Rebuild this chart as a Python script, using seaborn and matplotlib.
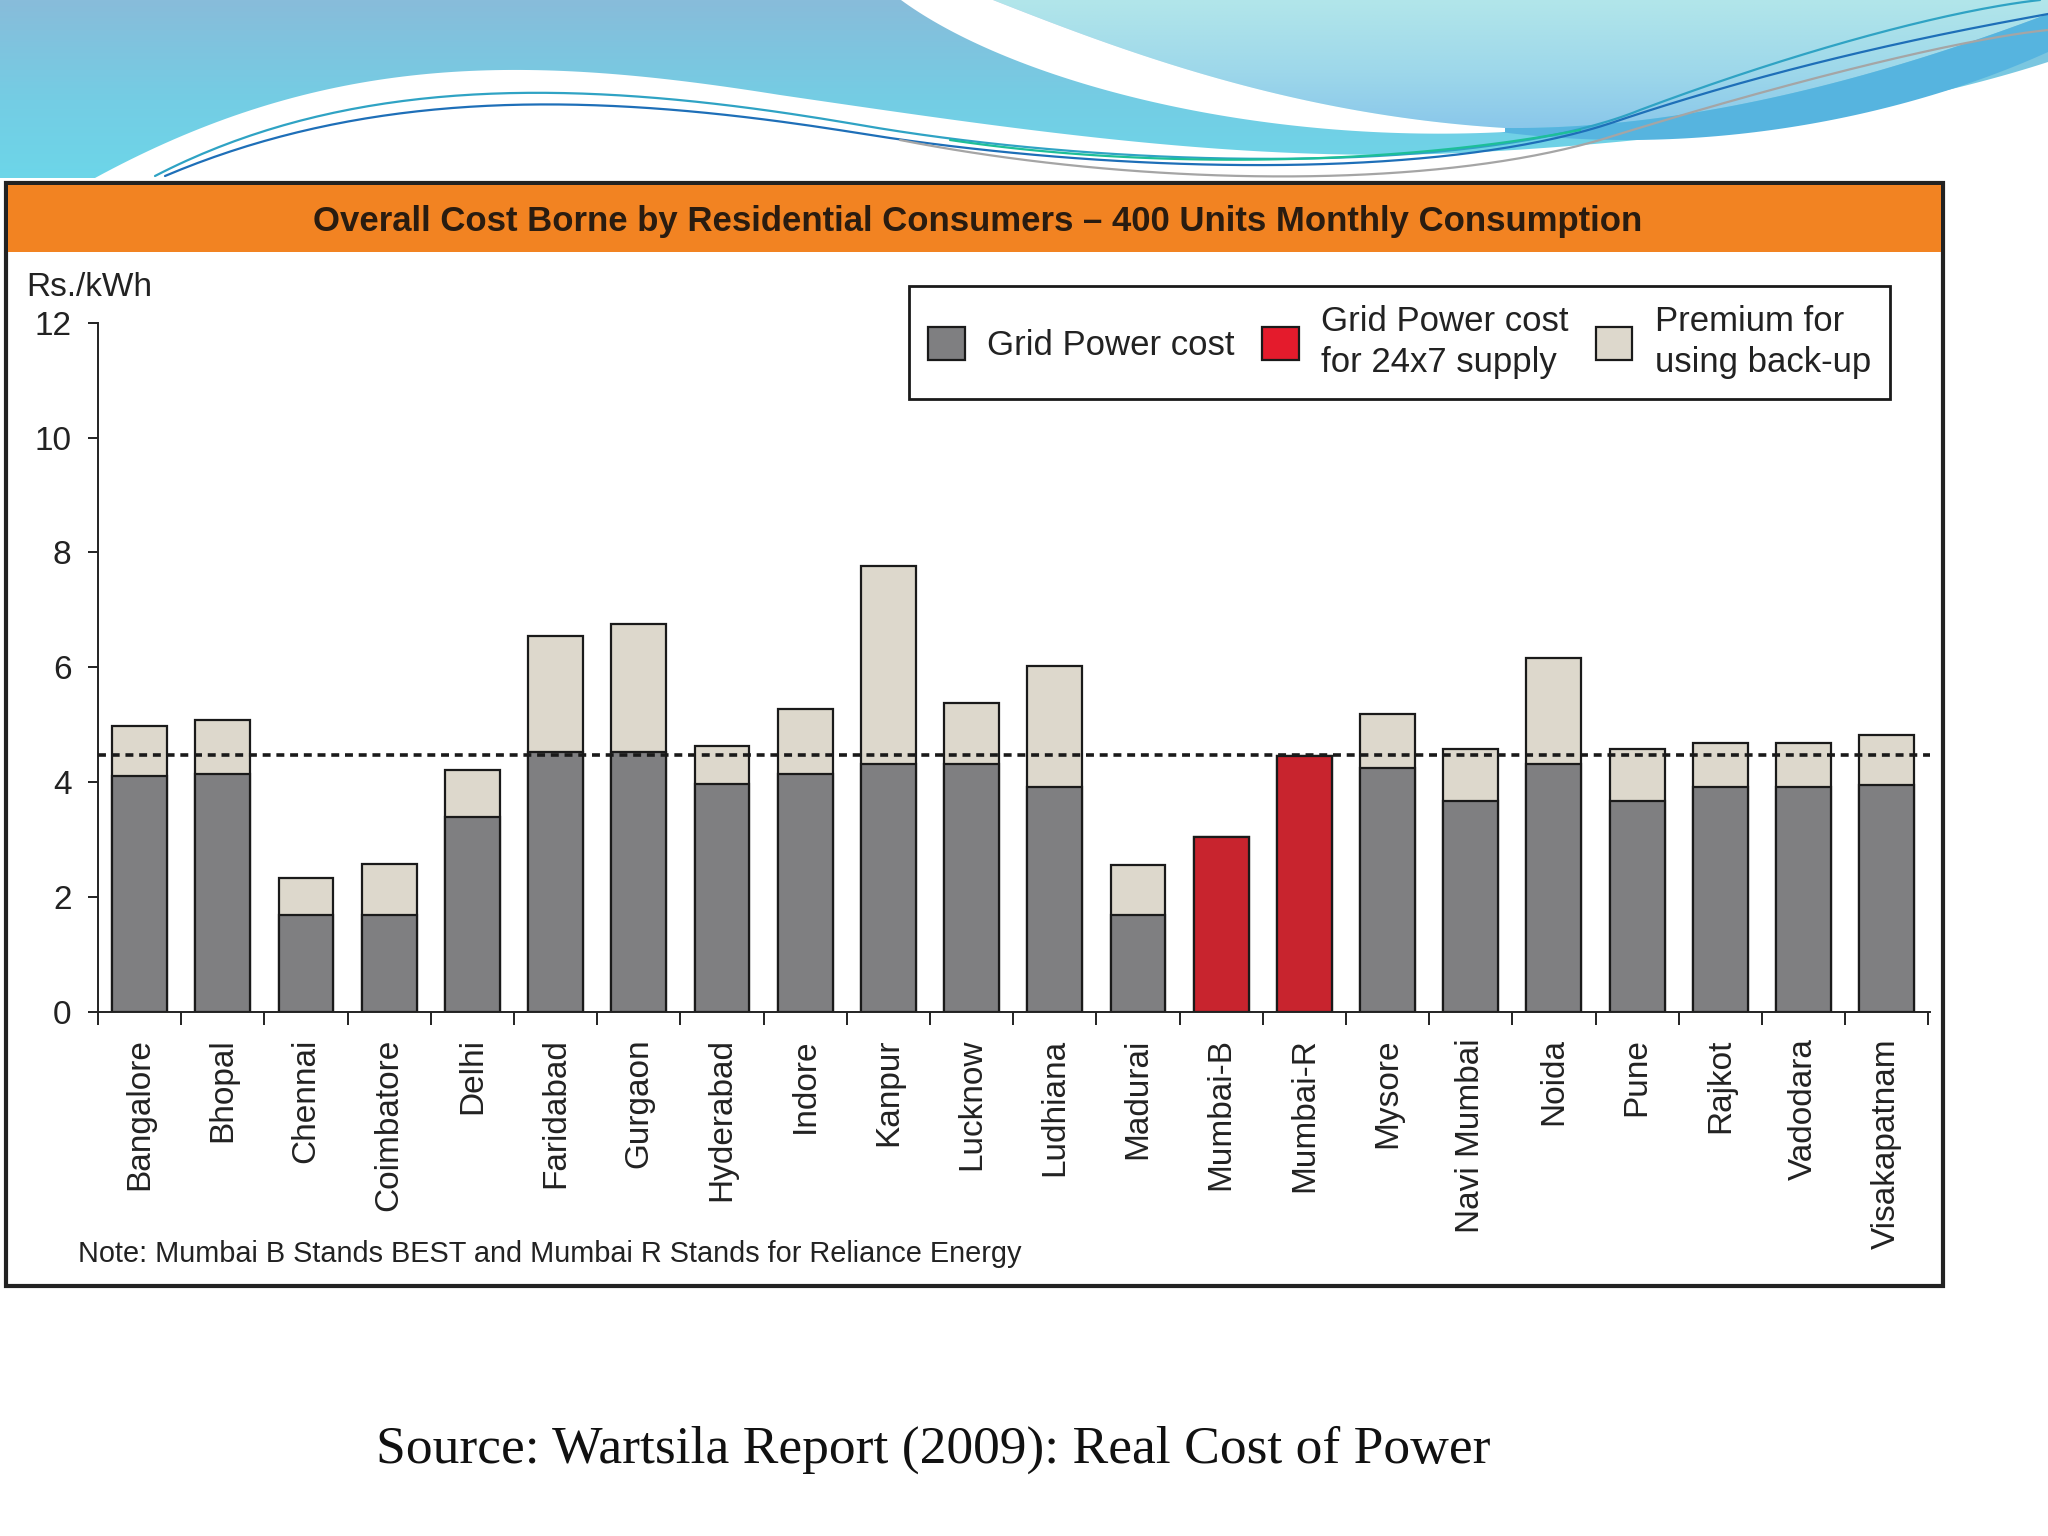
import numpy as np
import pandas as pd
import matplotlib
matplotlib.use("Agg")
import matplotlib.pyplot as plt
from matplotlib.patches import Rectangle, Polygon, Patch
from matplotlib.colors import LinearSegmentedColormap
import seaborn as sns

# data (Rs./kWh)
cities = ["Bangalore", "Bhopal", "Chennai", "Coimbatore", "Delhi", "Faridabad", "Gurgaon",
          "Hyderabad", "Indore", "Kanpur", "Lucknow", "Ludhiana", "Madurai", "Mumbai-B",
          "Mumbai-R", "Mysore", "Navi Mumbai", "Noida", "Pune", "Rajkot", "Vadodara",
          "Visakapatnam"]
grid_cost = [4.10, 4.14, 1.69, 1.69, 3.39, 4.52, 4.53, 3.96, 4.14, 4.32, 4.32,
             3.91, 1.69, 3.05, 4.45, 4.25, 3.68, 4.32, 3.68, 3.91, 3.91, 3.95]
backup_premium = [0.88, 0.94, 0.64, 0.88, 0.83, 2.03, 2.22, 0.67, 1.13, 3.44, 1.06,
                  2.12, 0.87, 0.00, 0.00, 0.94, 0.90, 1.84, 0.90, 0.78, 0.78, 0.87]
full_supply_cities = ["Mumbai-B", "Mumbai-R"]
reference_level = 4.47

legend_labels = ["Grid Power cost", "Grid Power cost\nfor 24x7 supply", "Premium for\nusing back-up"]
title = "Overall Cost Borne by Residential Consumers \u2013 400 Units Monthly Consumption"
note = "Note: Mumbai B Stands BEST and Mumbai R Stands for Reliance Energy"
source = "Source: Wartsila Report (2009): Real Cost of Power"

GRAY = "#7f7f81"
RED = "#c8242e"
BEIGE = "#ddd8cc"

df = pd.DataFrame({"city": cities, "grid": grid_cost, "premium": backup_premium})
df["total"] = df["grid"] + df["premium"]
palette = {c: (RED if c in full_supply_cities else GRAY) for c in cities}

sns.set_style("ticks")
plt.rcParams["font.family"] = ["Liberation Sans", "DejaVu Sans"]

fig = plt.figure(figsize=(20.48, 15.36), dpi=100)
fig.patch.set_facecolor("white")


def bez(p0, p1, p2, p3, n=80):
    t = np.linspace(0, 1, n)[:, None]
    p0, p1, p2, p3 = map(np.array, (p0, p1, p2, p3))
    return (1 - t) ** 3 * p0 + 3 * (1 - t) ** 2 * t * p1 + 3 * (1 - t) * t ** 2 * p2 + t ** 3 * p3


# slide background in pixel coordinates
bg = fig.add_axes([0, 0, 1, 1], zorder=-1)
bg.set_xlim(0, 2048)
bg.set_ylim(1536, 0)
bg.axis("off")

# big blue wave at the top
edge_a = np.vstack([[(0, 178)],
                    bez((95, 178), (330, 50), (530, 55), (780, 95)),
                    bez((780, 95), (1020, 130), (1250, 165), (1480, 152)),
                    bez((1480, 152), (1700, 140), (1900, 110), (2048, 62))])
wave_a = Polygon(np.vstack([[(0, 0)], edge_a, [(2048, 0)]]), closed=True,
                 facecolor="none", edgecolor="none", transform=bg.transData)
bg.add_patch(wave_a)
grad = np.linspace(0, 1, 200)[:, None] * np.ones((1, 50))
im = bg.imshow(grad, extent=[0, 2048, 200, 0], aspect="auto", zorder=1,
               cmap=LinearSegmentedColormap.from_list("w", ["#88bcda", "#74cde4", "#6ad8ea"]))
im.set_clip_path(wave_a)

light_left = bez((993, 0), (1120, 50), (1290, 115), (1505, 128))
light_bottom = bez((1505, 128), (1700, 130), (1900, 70), (2048, 14))
light = Polygon(np.vstack([light_left, light_bottom, [(2048, 0)]]), closed=True,
                facecolor="none", edgecolor="none", transform=bg.transData)
bg.add_patch(light)
im2 = bg.imshow(grad, extent=[900, 2048, 140, 0], aspect="auto", zorder=2,
                cmap=LinearSegmentedColormap.from_list("l", ["#b2e6ea", "#9ed8ea", "#86c4ea"]))
im2.set_clip_path(light)

band_low = bez((1500, 132), (1720, 160), (1920, 110), (2048, 52))
bg.add_patch(Polygon(np.vstack([light_bottom, band_low[::-1]]), closed=True,
                     facecolor="#56b4df", edgecolor="none", zorder=2))
white_left = bez((901, 0), (1010, 80), (1250, 145), (1505, 132))
bg.add_patch(Polygon(np.vstack([white_left, light_left[::-1]]), closed=True,
                     facecolor="white", edgecolor="none", zorder=3))

for pts, col in [
    (np.vstack([bez((155, 176), (360, 70), (600, 80), (860, 125)),
                bez((860, 125), (1120, 170), (1480, 175), (1640, 110)),
                bez((1640, 110), (1800, 50), (1950, 10), (2040, 0))]), "#2fa3c4"),
    (np.vstack([bez((165, 176), (380, 85), (610, 92), (870, 135)),
                bez((870, 135), (1130, 175), (1450, 180), (1620, 120)),
                bez((1620, 120), (1800, 60), (1960, 30), (2048, 14))]), "#1e6fb8"),
    (np.vstack([bez((900, 140), (1130, 185), (1420, 192), (1600, 140)),
                bez((1600, 140), (1760, 90), (1950, 40), (2048, 30))]), "#a5a5a5"),
    (np.vstack([bez((950, 140), (1150, 170), (1400, 165), (1580, 130))]), "#1dbf98"),
]:
    bg.plot(pts[:, 0], pts[:, 1], color=col, lw=1.6, zorder=4)

# chart frame and orange title band
bg.add_patch(Rectangle((6, 183), 1937, 1103, facecolor="white", edgecolor="#222222",
                       lw=3, zorder=5))
bg.add_patch(Rectangle((8, 185), 1933, 67, facecolor="#f28322", edgecolor="none", zorder=6))
bg.text(978, 222, title, ha="center", va="center", fontsize=25, fontweight="bold",
        color="#2a1c10", zorder=7)
bg.text(26, 287, "Rs./kWh", ha="left", va="center", fontsize=24, color="#222222", zorder=7)
bg.text(78, 1254, note, ha="left", va="center", fontsize=20.8, color="#222222", zorder=7)
bg.text(933, 1450, source, ha="center", va="center", fontsize=38.5,
        family=["Liberation Serif", "DejaVu Serif"], color="#111111", zorder=7)

# bar chart
ax = fig.add_axes([98 / 2048, 1 - 1012 / 1536, (1930 - 98) / 2048, (1012 - 322.6) / 1536])
ax.set_facecolor("none")
sns.barplot(data=df, x="city", y="total", color=BEIGE, saturation=1, width=0.66,
            edgecolor="#1a1a1a", linewidth=1.6, errorbar=None, ax=ax)
sns.barplot(data=df, x="city", y="grid", hue="city", palette=palette, dodge=False,
            saturation=1, width=0.66, edgecolor="#1a1a1a", linewidth=1.6,
            errorbar=None, legend=False, ax=ax)
ax.axhline(reference_level, color="#1a1a1a", lw=2.6, ls=(0, (2.2, 1.6)), zorder=5)

ax.set_xlim(-0.5, 21.52)
ax.set_ylim(0, 12)
ax.set_yticks(np.arange(0, 13, 2))
ax.set_xlabel("")
ax.set_ylabel("")
ax.set_xticks(np.arange(-0.5, 22, 1), minor=True)
ax.tick_params(axis="x", which="major", length=0, pad=19, labelsize=24, labelrotation=90,
               labelcolor="#222222")
ax.tick_params(axis="x", which="minor", length=9, width=1.4, direction="out", color="#222222")
ax.tick_params(axis="y", length=7, width=1.4, pad=12, labelsize=24, labelcolor="#222222",
               color="#222222")
for lab in ax.get_xticklabels():
    lab.set_va("top")
    lab.set_ha("center")
sns.despine(ax=ax)
ax.spines["left"].set_bounds(0, 12)
for s in ("left", "bottom"):
    ax.spines[s].set_linewidth(1.4)
    ax.spines[s].set_color("#222222")

handles = [Patch(facecolor=GRAY, edgecolor="#1a1a1a", lw=1.6),
           Patch(facecolor="#e41b2c", edgecolor="#1a1a1a", lw=1.6),
           Patch(facecolor=BEIGE, edgecolor="#1a1a1a", lw=1.6)]
leg = ax.legend(handles, legend_labels, loc="upper left", ncol=3,
                bbox_to_anchor=(909 / 2048, 1 - 286 / 1536), bbox_transform=fig.transFigure,
                fontsize=25, frameon=True, fancybox=False, framealpha=1, edgecolor="#1a1a1a",
                handlelength=1.05, handleheight=1.05, handletextpad=0.64, columnspacing=0.8,
                borderpad=0.55, borderaxespad=0)
leg.get_frame().set_linewidth(2)
for t in leg.get_texts():
    t.set_color("#222222")
    t.set_linespacing(1.32)

fig.savefig("out.png", dpi=100)
